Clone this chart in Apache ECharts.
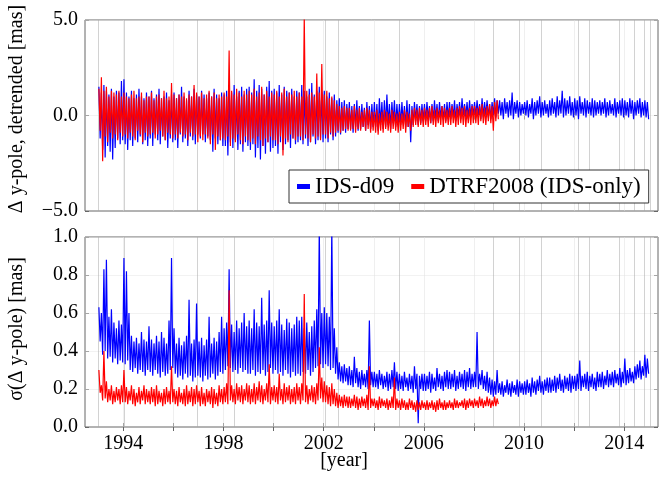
<!DOCTYPE html>
<html><head><meta charset="utf-8">
<script src="https://cdn.jsdelivr.net/npm/echarts@6/dist/echarts.min.js"></script>
<style>html,body{margin:0;padding:0;background:#fff}#c{width:661px;height:485px}</style>
</head><body><div id="c"></div>
<script>
// ---- axis / tick data ----
const xStart = 1993.0;      // first bin start [year]
const binStep = 0.1;        // bin width [year]
const xLabelYears = [1994, 1998, 2002, 2006, 2010, 2014];
const xTickYears = [1994, 1996, 1998, 2000, 2002, 2004, 2006, 2008, 2010, 2012, 2014];
const eventYears = [1993.0, 1994.05, 1996.95, 1998.41, 2002.08, 2002.57, 2005.01, 2008.79, 2009.81, 2010.68, 2012.17, 2012.61, 2013.81, 2014.39, 2014.81, 2015.05];
const topYTicks = [-5, 0, 5];
const botYTicks = [0, 0.2, 0.4, 0.6, 0.8, 1.0];
const seriesNames = ['IDS-d09', 'DTRF2008 (IDS-only)'];

// ---- top panel: Δ y-pole detrended [mas], IDS-d09 (per 0.1-yr bin: high / low) ----
const topBlueHi = [
1.5,1.2,1.6,1.3,1.1,1.4,1.0,1.3,1.2,1.8,
1.9,1.2,1.0,1.3,0.9,1.1,1.4,1.0,0.9,1.2,
1.0,1.3,0.9,1.1,1.4,0.9,1.0,1.2,0.8,1.1,
1.2,0.9,1.1,1.5,1.0,0.8,1.3,1.0,1.4,1.1,
1.0,1.3,1.1,0.9,1.2,1.0,1.4,1.1,0.9,1.2,
1.1,1.3,1.4,1.2,1.6,1.0,1.3,1.5,1.1,1.4,
1.5,1.2,1.9,1.3,1.6,1.4,1.1,1.5,1.8,1.3,
1.4,1.2,1.6,1.1,1.5,1.3,1.2,1.4,1.0,1.3,
1.2,1.6,1.3,1.0,1.4,1.7,1.1,1.3,1.5,1.2,
1.3,1.0,1.2,0.9,1.1,0.8,0.9,0.7,0.8,0.6,
0.7,0.5,0.6,0.8,0.5,0.6,0.4,0.7,0.5,0.6,
0.7,0.6,0.9,0.7,0.8,1.1,0.6,0.7,0.8,0.6,
0.6,0.7,0.5,0.8,0.6,0.5,0.7,0.6,0.5,0.6,
0.6,0.7,0.5,0.6,0.8,0.6,0.7,0.5,0.6,0.7,
0.7,0.6,0.8,0.6,0.7,0.9,0.6,0.7,0.8,0.6,
0.7,0.8,0.6,0.9,0.7,0.8,0.6,0.7,0.9,0.8,
0.8,0.7,0.9,0.7,0.8,1.2,0.7,0.8,0.7,0.6,
0.7,0.8,0.6,0.9,0.7,0.8,1.0,0.7,0.8,0.6,
0.8,0.9,0.7,1.0,0.8,1.3,0.9,0.8,1.0,0.7,
0.9,0.8,1.0,0.7,0.9,0.8,0.7,0.9,0.8,0.7,
0.8,0.7,0.9,0.7,0.8,0.6,0.9,0.7,0.8,0.9,
0.8,0.7,0.9,0.8,0.7,0.8,0.9,0.7,0.8,0.7];
const topBlueLo = [
-1.2,-1.8,-2.2,-1.6,-1.9,-2.3,-1.7,-1.2,-1.5,-1.3,
-1.5,-1.8,-1.3,-1.6,-1.2,-1.4,-1.1,-1.5,-1.3,-1.6,
-1.2,-1.6,-1.0,-1.3,-1.5,-1.1,-1.3,-1.7,-1.2,-1.4,
-1.3,-1.7,-1.0,-1.4,-1.2,-1.6,-1.1,-1.3,-1.5,-1.0,
-1.2,-1.0,-1.4,-1.1,-1.3,-1.9,-1.2,-1.5,-1.3,-1.6,
-1.6,-2.1,-1.4,-1.7,-1.3,-1.8,-1.5,-1.9,-1.4,-1.6,
-1.8,-1.5,-2.2,-1.7,-2.3,-1.6,-2.0,-1.4,-1.9,-1.7,
-1.6,-2.0,-1.4,-1.8,-1.5,-1.3,-1.7,-1.2,-1.5,-1.4,
-1.3,-1.5,-1.2,-1.6,-1.4,-1.1,-1.5,-1.3,-1.2,-1.4,
-1.2,-1.4,-1.0,-1.3,-1.1,-0.9,-1.0,-0.8,-0.9,-0.7,
-0.7,-0.9,-0.6,-0.8,-0.7,-0.6,-0.8,-0.5,-0.7,-0.6,
-0.6,-0.8,-0.5,-0.7,-0.6,-0.5,-0.7,-0.4,-0.6,-0.5,
-0.5,-0.4,-0.6,-0.6,-1.4,-0.5,-0.3,-0.5,-0.4,-0.3,
-0.3,-0.2,-0.4,-0.3,-0.2,-0.3,-0.1,-0.2,-0.3,-0.2,
-0.2,-0.1,-0.3,-0.1,-0.2,0.0,-0.1,-0.2,-0.1,0.0,
-0.1,0.0,-0.2,-0.1,0.0,-0.1,-0.2,0.0,-0.1,0.1,
0.0,-0.2,0.1,-0.1,0.0,-0.2,0.1,-0.1,0.0,0.1,
0.0,-0.1,0.1,-0.2,0.0,0.1,-0.1,0.0,0.1,-0.1,
0.0,0.1,-0.1,0.0,0.1,-0.1,0.0,0.1,0.0,-0.1,
0.0,-0.2,0.1,0.0,-0.1,0.1,0.0,-0.1,0.0,0.1,
0.0,0.1,-0.1,0.0,0.1,0.0,-0.1,0.1,0.0,-0.1,
0.0,-0.1,0.1,-0.2,0.0,0.1,-0.1,0.0,-0.1,-0.2];

// ---- top panel: DTRF2008 (IDS-only) ----
const topRedHi = [
1.4,2.0,1.3,1.5,1.0,1.3,1.2,1.1,1.3,1.0,
1.2,1.0,0.9,1.1,1.3,0.9,1.0,1.2,0.8,1.0,
1.0,1.2,0.8,1.0,1.1,0.9,1.3,0.9,1.0,1.7,
1.1,0.9,1.1,1.0,1.2,0.9,1.1,1.0,1.6,1.2,
1.0,1.2,0.9,1.1,1.3,1.0,1.2,0.9,1.1,1.0,
1.2,1.0,3.4,1.3,1.1,1.4,1.2,1.0,1.3,1.1,
1.3,1.1,1.4,1.0,1.2,1.5,1.1,1.3,1.0,1.2,
1.1,1.3,1.0,1.2,1.4,1.0,1.2,1.1,1.3,1.0,
1.2,1.0,5.2,1.3,1.1,1.2,1.0,2.2,1.2,2.7,
1.1,1.3,0.9,1.0,0.8,0.6,0.5,0.4,0.5,0.4,
0.4,0.3,0.5,0.3,0.4,0.2,0.3,0.4,0.3,0.2,
0.2,0.3,0.1,0.2,0.3,0.2,0.1,0.3,0.2,0.1,
0.2,0.1,0.3,0.2,0.1,0.3,0.4,0.3,0.4,0.3,
0.4,0.3,0.4,0.5,0.3,0.4,0.3,0.5,0.4,0.3,
0.4,0.5,0.3,0.4,0.5,0.4,0.5,0.3,0.4,0.5,
0.5,0.4,0.5,0.6,0.4,0.5,0.6,0.5,0.7,0.8];
const topRedLo = [
-0.8,-2.4,-1.1,-1.4,-0.9,-1.2,-1.0,-1.3,-0.9,-1.1,
-1.0,-1.2,-0.9,-1.1,-1.3,-0.8,-1.0,-1.4,-0.9,-1.1,
-1.0,-0.9,-1.2,-1.0,-0.8,-1.1,-1.3,-0.9,-1.0,-1.2,
-1.0,-1.2,-0.9,-1.1,-1.0,-1.3,-0.9,-1.1,-1.0,-1.4,
-1.1,-1.3,-1.0,-1.2,-1.5,-1.0,-1.8,-1.1,-1.3,-1.2,
-1.3,-1.1,-1.6,-1.2,-1.4,-1.0,-1.3,-1.5,-1.1,-1.3,
-1.4,-1.2,-1.5,-1.1,-1.3,-1.6,-1.2,-1.4,-1.1,-1.3,
-1.3,-1.5,-1.1,-2.1,-1.2,-1.4,-1.0,-1.2,-1.3,-1.1,
-1.1,-1.3,-1.0,-1.2,-1.4,-1.0,-1.2,-1.1,-1.3,-1.0,
-1.0,-1.2,-0.9,-1.1,-0.9,-0.8,-0.9,-0.8,-0.7,-0.8,
-0.8,-0.7,-0.9,-0.7,-0.8,-0.6,-0.8,-0.7,-0.9,-0.8,
-0.9,-1.0,-0.8,-0.9,-0.7,-0.8,-0.9,-0.7,-0.8,-0.9,
-0.8,-0.7,-0.9,-0.6,-0.8,-0.6,-0.5,-0.6,-0.5,-0.6,
-0.5,-0.6,-0.4,-0.5,-0.6,-0.4,-0.5,-0.6,-0.4,-0.5,
-0.5,-0.4,-0.6,-0.5,-0.4,-0.5,-0.6,-0.4,-0.5,-0.4,
-0.4,-0.5,-0.3,-0.4,-0.5,-0.3,-0.4,-0.8,-0.3,-0.2];

// ---- bottom panel: σ(Δ y-pole) [mas], IDS-d09 ----
const botBlueHi = [
0.63,0.60,0.83,0.88,0.58,0.62,0.55,0.52,0.56,0.54,
0.89,0.82,0.60,0.48,0.45,0.47,0.44,0.50,0.46,0.45,
0.53,0.46,0.44,0.48,0.45,0.50,0.47,0.44,0.56,0.89,
0.52,0.44,0.47,0.43,0.45,0.48,0.67,0.44,0.46,0.65,
0.45,0.47,0.43,0.46,0.58,0.44,0.47,0.45,0.50,0.58,
0.52,0.55,0.83,0.54,0.50,0.56,0.52,0.55,0.60,0.53,
0.56,0.52,0.62,0.55,0.53,0.68,0.54,0.56,0.72,0.55,
0.53,0.56,0.62,0.54,0.51,0.57,0.55,0.52,0.54,0.58,
0.56,0.58,0.52,0.55,0.50,0.53,0.56,0.62,1.05,0.60,
0.63,0.60,0.58,1.05,0.52,0.42,0.34,0.32,0.33,0.31,
0.32,0.30,0.37,0.31,0.29,0.30,0.28,0.30,0.56,0.29,
0.29,0.28,0.30,0.28,0.27,0.29,0.28,0.30,0.34,0.29,
0.28,0.27,0.29,0.26,0.28,0.27,0.32,0.28,0.27,0.28,
0.28,0.27,0.29,0.28,0.26,0.31,0.28,0.27,0.29,0.30,
0.29,0.28,0.30,0.27,0.29,0.28,0.30,0.29,0.31,0.28,
0.29,0.50,0.28,0.30,0.27,0.29,0.26,0.25,0.24,0.30,
0.23,0.24,0.22,0.25,0.23,0.24,0.22,0.25,0.24,0.23,
0.24,0.25,0.23,0.26,0.24,0.25,0.27,0.24,0.25,0.26,
0.26,0.25,0.27,0.26,0.28,0.25,0.27,0.26,0.28,0.27,
0.27,0.28,0.35,0.27,0.28,0.29,0.27,0.28,0.26,0.29,
0.28,0.29,0.27,0.30,0.28,0.29,0.30,0.28,0.31,0.29,
0.36,0.30,0.31,0.29,0.32,0.33,0.35,0.32,0.38,0.36];
const botBlueLo = [
0.45,0.38,0.40,0.36,0.37,0.34,0.36,0.33,0.35,0.34,
0.33,0.35,0.30,0.29,0.31,0.28,0.30,0.29,0.27,0.30,
0.29,0.27,0.30,0.28,0.26,0.29,0.27,0.28,0.30,0.31,
0.28,0.26,0.27,0.25,0.28,0.26,0.27,0.24,0.26,0.27,
0.26,0.24,0.27,0.25,0.26,0.28,0.25,0.27,0.29,0.28,
0.30,0.32,0.31,0.29,0.30,0.28,0.31,0.29,0.30,0.28,
0.28,0.30,0.27,0.29,0.28,0.30,0.27,0.29,0.31,0.28,
0.30,0.28,0.29,0.27,0.30,0.28,0.26,0.29,0.27,0.28,
0.27,0.29,0.28,0.30,0.27,0.29,0.31,0.32,0.33,0.31,
0.33,0.32,0.30,0.31,0.28,0.25,0.24,0.23,0.24,0.22,
0.22,0.21,0.23,0.21,0.20,0.22,0.21,0.20,0.22,0.21,
0.21,0.20,0.22,0.20,0.21,0.19,0.20,0.21,0.20,0.19,
0.20,0.19,0.21,0.19,0.20,0.18,0.20,0.02,0.20,0.19,
0.19,0.20,0.18,0.20,0.19,0.21,0.20,0.19,0.21,0.20,
0.20,0.21,0.19,0.20,0.21,0.20,0.19,0.21,0.20,0.21,
0.21,0.20,0.22,0.20,0.19,0.18,0.17,0.16,0.17,0.18,
0.17,0.16,0.18,0.17,0.16,0.18,0.17,0.16,0.18,0.17,
0.17,0.18,0.16,0.18,0.17,0.19,0.18,0.17,0.19,0.18,
0.18,0.19,0.18,0.20,0.19,0.18,0.20,0.19,0.18,0.20,
0.19,0.20,0.19,0.21,0.20,0.19,0.21,0.20,0.19,0.21,
0.21,0.20,0.22,0.21,0.22,0.21,0.23,0.22,0.21,0.23,
0.22,0.23,0.24,0.23,0.25,0.26,0.25,0.27,0.26,0.28];

// ---- bottom panel: DTRF2008 (IDS-only) ----
const botRedHi = [
0.30,0.22,0.40,0.24,0.20,0.22,0.19,0.21,0.20,0.22,
0.30,0.21,0.19,0.22,0.20,0.18,0.21,0.19,0.22,0.20,
0.19,0.21,0.20,0.22,0.19,0.18,0.20,0.21,0.19,0.32,
0.20,0.19,0.21,0.18,0.20,0.22,0.19,0.21,0.20,0.22,
0.19,0.21,0.18,0.20,0.19,0.21,0.20,0.18,0.22,0.20,
0.21,0.23,0.72,0.22,0.20,0.23,0.21,0.22,0.20,0.23,
0.22,0.20,0.23,0.21,0.24,0.22,0.20,0.23,0.33,0.21,
0.22,0.21,0.28,0.20,0.23,0.21,0.22,0.20,0.21,0.23,
0.21,0.23,0.70,0.22,0.20,0.22,0.21,0.23,0.42,0.26,
0.24,0.22,0.21,0.23,0.20,0.18,0.17,0.16,0.17,0.16,
0.16,0.15,0.17,0.16,0.15,0.16,0.15,0.17,0.32,0.15,
0.15,0.14,0.16,0.15,0.14,0.15,0.14,0.16,0.26,0.15,
0.14,0.15,0.14,0.13,0.15,0.14,0.13,0.14,0.13,0.14,
0.13,0.14,0.13,0.14,0.13,0.14,0.15,0.13,0.14,0.13,
0.14,0.13,0.15,0.14,0.13,0.14,0.15,0.14,0.15,0.14,
0.15,0.14,0.16,0.15,0.14,0.16,0.15,0.14,0.16,0.15];
const botRedLo = [
0.18,0.14,0.15,0.13,0.14,0.12,0.13,0.14,0.12,0.13,
0.13,0.12,0.14,0.12,0.11,0.13,0.12,0.14,0.12,0.13,
0.12,0.13,0.11,0.12,0.13,0.11,0.12,0.13,0.12,0.13,
0.12,0.11,0.13,0.12,0.11,0.12,0.13,0.11,0.12,0.13,
0.11,0.12,0.11,0.13,0.12,0.10,0.12,0.11,0.13,0.12,
0.13,0.12,0.14,0.13,0.12,0.14,0.13,0.12,0.14,0.13,
0.12,0.13,0.12,0.14,0.13,0.12,0.14,0.13,0.12,0.14,
0.13,0.12,0.14,0.12,0.13,0.14,0.12,0.13,0.12,0.14,
0.12,0.14,0.13,0.12,0.14,0.13,0.12,0.14,0.15,0.13,
0.13,0.12,0.11,0.12,0.11,0.10,0.11,0.10,0.11,0.10,
0.10,0.11,0.10,0.09,0.10,0.11,0.10,0.09,0.10,0.11,
0.10,0.09,0.10,0.11,0.10,0.09,0.10,0.10,0.09,0.10,
0.09,0.10,0.09,0.09,0.10,0.09,0.08,0.09,0.09,0.10,
0.09,0.09,0.10,0.09,0.08,0.09,0.10,0.09,0.09,0.10,
0.10,0.09,0.10,0.10,0.11,0.10,0.09,0.10,0.11,0.10,
0.11,0.10,0.11,0.10,0.11,0.11,0.10,0.11,0.11,0.12];

// build high/low traces per bin
function binTrace(hi, lo) {
  const out = [];
  for (let i = 0; i < hi.length; i++) {
    const t0 = xStart + i * binStep;
    out.push([+(t0 + binStep * 0.25).toFixed(4), hi[i]]);
    out.push([+(t0 + binStep * 0.75).toFixed(4), lo[i]]);
  }
  return out;
}

const FONT = 'Liberation Serif';
const BLUE = '#0000ff', RED = '#ff0000';
const FRAME = '#666666';
const X_MIN = 1992.47, X_MAX = 2015.35;
const LW = 1.2;

// reference lines (grid + event markers), drawn beneath the data
function refLines(yMin, yMax, hTicks) {
  const d = [];
  hTicks.forEach(v => d.push({ coords: [[X_MIN, v], [X_MAX, v]], lineStyle: { color: '#e6e6e6', width: 1 } }));
  xTickYears.forEach(v => d.push({ coords: [[v, yMin], [v, yMax]], lineStyle: { color: '#e0e0e0', width: 1 } }));
  eventYears.forEach(v => d.push({ coords: [[v, yMin], [v, yMax]], lineStyle: { color: '#a6a6a6', width: 1 } }));
  return d;
}
function xAx(grid, pos, labels) {
  return {
    gridIndex: grid, type: 'value', position: pos, min: X_MIN, max: X_MAX,
    axisLine: { show: false },
    axisTick: { show: true, inside: true, length: 4, customValues: xTickYears, lineStyle: { color: FRAME } },
    axisLabel: labels ? { show: true, customValues: xLabelYears, margin: 7, color: '#000', fontFamily: FONT, fontSize: 20, formatter: v => String(Math.round(v)) } : { show: false },
    splitLine: { show: false }
  };
}
function fmt(v) { return v.toFixed(1).replace('-', '\u2212'); }
function yAx(grid, pos, mn, mx, ticks, labels) {
  return {
    gridIndex: grid, type: 'value', position: pos, min: mn, max: mx,
    axisLine: { show: false },
    axisTick: { show: true, inside: true, length: 4, customValues: ticks, lineStyle: { color: FRAME } },
    axisLabel: labels ? { show: true, customValues: ticks, margin: 7, color: '#000', fontFamily: FONT, fontSize: 20, formatter: fmt } : { show: false },
    splitLine: { show: false }
  };
}

const chart = echarts.init(document.getElementById('c'), null, { renderer: 'canvas' });
chart.setOption({
  animation: false,
  backgroundColor: '#ffffff',
  grid: [
    { left: 85, right: 3, top: 20, height: 191, show: true, borderColor: FRAME, borderWidth: 1, backgroundColor: 'transparent' },
    { left: 85, right: 3, top: 237, height: 190, show: true, borderColor: FRAME, borderWidth: 1, backgroundColor: 'transparent' }
  ],
  xAxis: [xAx(0, 'bottom', false), xAx(0, 'top', false), xAx(1, 'bottom', true), xAx(1, 'top', false)],
  yAxis: [
    yAx(0, 'left', -5, 5, topYTicks, true), yAx(0, 'right', -5, 5, topYTicks, false),
    yAx(1, 'left', 0, 1, botYTicks, true), yAx(1, 'right', 0, 1, botYTicks, false)
  ],
  legend: {
    data: [{ name: seriesNames[0], icon: 'rect' }, { name: seriesNames[1], icon: 'rect' }],
    left: 289, top: 170, itemWidth: 13, itemHeight: 5, itemGap: 17,
    padding: [5, 8], borderColor: '#333', borderWidth: 1, backgroundColor: '#fff',
    textStyle: { fontFamily: FONT, fontSize: 23, color: '#000' }, z: 20
  },
  graphic: [
    { type: 'text', x: 17, y: 109, rotation: Math.PI / 2, style: { text: '\u0394 y-pole, detrended [mas]', font: '20px "Liberation Serif"', fill: '#000', align: 'center', verticalAlign: 'middle' } },
    { type: 'text', x: 17, y: 329, rotation: Math.PI / 2, style: { text: '\u03c3(\u0394 y-pole) [mas]', font: '20px "Liberation Serif"', fill: '#000', align: 'center', verticalAlign: 'middle' } },
    { type: 'text', x: 344, y: 461, style: { text: '[year]', font: '20px "Liberation Serif"', fill: '#000', align: 'center', verticalAlign: 'middle' } }
  ],
  series: [
    { type: 'lines', coordinateSystem: 'cartesian2d', xAxisIndex: 0, yAxisIndex: 0, silent: true, z: 1,
      data: refLines(-5, 5, topYTicks) },
    { type: 'lines', coordinateSystem: 'cartesian2d', xAxisIndex: 2, yAxisIndex: 2, silent: true, z: 1,
      data: refLines(0, 1, botYTicks) },
    { name: seriesNames[0], type: 'line', xAxisIndex: 0, yAxisIndex: 0, data: binTrace(topBlueHi, topBlueLo), showSymbol: false, z: 3,
      lineStyle: { color: BLUE, width: LW }, itemStyle: { color: BLUE } },
    { name: seriesNames[1], type: 'line', xAxisIndex: 0, yAxisIndex: 0, data: binTrace(topRedHi, topRedLo), showSymbol: false, z: 4,
      lineStyle: { color: RED, width: LW }, itemStyle: { color: RED } },
    { name: seriesNames[0], type: 'line', xAxisIndex: 2, yAxisIndex: 2, data: binTrace(botBlueHi, botBlueLo), showSymbol: false, z: 3,
      lineStyle: { color: BLUE, width: LW }, itemStyle: { color: BLUE } },
    { name: seriesNames[1], type: 'line', xAxisIndex: 2, yAxisIndex: 2, data: binTrace(botRedHi, botRedLo), showSymbol: false, z: 4,
      lineStyle: { color: RED, width: LW }, itemStyle: { color: RED } }
  ]
});
</script></body></html>
